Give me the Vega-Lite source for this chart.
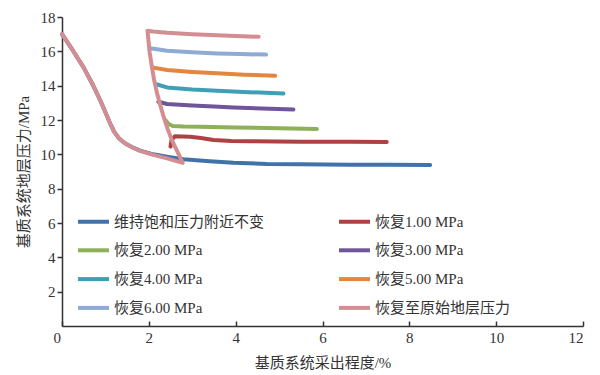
{
  "$schema": "https://vega.github.io/schema/vega-lite/v6.json",
  "width": 521,
  "height": 309,
  "autosize": {"type": "none"},
  "padding": {"left": 62, "top": 17, "right": 17, "bottom": 49},
  "background": "white",
  "config": {
    "view": {"stroke": null},
    "font": "Liberation Serif, Noto Sans CJK SC"
  },
  "data": {
    "values": [
      {"s": "维持饱和压力附近不变", "i": 0, "x": 0, "y": 17.0},
      {"s": "维持饱和压力附近不变", "i": 1, "x": 0.25, "y": 16.05},
      {"s": "维持饱和压力附近不变", "i": 2, "x": 0.5, "y": 15.05},
      {"s": "维持饱和压力附近不变", "i": 3, "x": 0.7, "y": 14.1},
      {"s": "维持饱和压力附近不变", "i": 4, "x": 0.88, "y": 13.15},
      {"s": "维持饱和压力附近不变", "i": 5, "x": 1.0, "y": 12.45},
      {"s": "维持饱和压力附近不变", "i": 6, "x": 1.1, "y": 11.85},
      {"s": "维持饱和压力附近不变", "i": 7, "x": 1.2, "y": 11.32},
      {"s": "维持饱和压力附近不变", "i": 8, "x": 1.3, "y": 10.97},
      {"s": "维持饱和压力附近不变", "i": 9, "x": 1.4, "y": 10.74},
      {"s": "维持饱和压力附近不变", "i": 10, "x": 1.5, "y": 10.57},
      {"s": "维持饱和压力附近不变", "i": 11, "x": 1.65, "y": 10.37},
      {"s": "维持饱和压力附近不变", "i": 12, "x": 1.8, "y": 10.22},
      {"s": "维持饱和压力附近不变", "i": 13, "x": 2.1, "y": 10.0},
      {"s": "维持饱和压力附近不变", "i": 14, "x": 2.45, "y": 9.85},
      {"s": "维持饱和压力附近不变", "i": 15, "x": 2.8, "y": 9.72},
      {"s": "维持饱和压力附近不变", "i": 16, "x": 3.4, "y": 9.6},
      {"s": "维持饱和压力附近不变", "i": 17, "x": 3.95, "y": 9.51},
      {"s": "维持饱和压力附近不变", "i": 18, "x": 4.72, "y": 9.44},
      {"s": "维持饱和压力附近不变", "i": 19, "x": 5.5, "y": 9.42},
      {"s": "维持饱和压力附近不变", "i": 20, "x": 6.64, "y": 9.4},
      {"s": "维持饱和压力附近不变", "i": 21, "x": 7.5, "y": 9.39},
      {"s": "维持饱和压力附近不变", "i": 22, "x": 8.48, "y": 9.38},
      {"s": "恢复1.00 MPa", "i": 0, "x": 2.5, "y": 10.45},
      {"s": "恢复1.00 MPa", "i": 1, "x": 2.52, "y": 10.8},
      {"s": "恢复1.00 MPa", "i": 2, "x": 2.6, "y": 11.06},
      {"s": "恢复1.00 MPa", "i": 3, "x": 2.95, "y": 11.03},
      {"s": "恢复1.00 MPa", "i": 4, "x": 3.2, "y": 10.95},
      {"s": "恢复1.00 MPa", "i": 5, "x": 3.49, "y": 10.83},
      {"s": "恢复1.00 MPa", "i": 6, "x": 3.9, "y": 10.78},
      {"s": "恢复1.00 MPa", "i": 7, "x": 4.33, "y": 10.76},
      {"s": "恢复1.00 MPa", "i": 8, "x": 5.5, "y": 10.74},
      {"s": "恢复1.00 MPa", "i": 9, "x": 6.64, "y": 10.73},
      {"s": "恢复1.00 MPa", "i": 10, "x": 7.48, "y": 10.72},
      {"s": "恢复2.00 MPa", "i": 0, "x": 2.38, "y": 12.0},
      {"s": "恢复2.00 MPa", "i": 1, "x": 2.45, "y": 11.78},
      {"s": "恢复2.00 MPa", "i": 2, "x": 2.55, "y": 11.65},
      {"s": "恢复2.00 MPa", "i": 3, "x": 2.8, "y": 11.62},
      {"s": "恢复2.00 MPa", "i": 4, "x": 3.18, "y": 11.6},
      {"s": "恢复2.00 MPa", "i": 5, "x": 4.0, "y": 11.57},
      {"s": "恢复2.00 MPa", "i": 6, "x": 4.72, "y": 11.54},
      {"s": "恢复2.00 MPa", "i": 7, "x": 5.3, "y": 11.51},
      {"s": "恢复2.00 MPa", "i": 8, "x": 5.87, "y": 11.48},
      {"s": "恢复3.00 MPa", "i": 0, "x": 2.22, "y": 13.06},
      {"s": "恢复3.00 MPa", "i": 1, "x": 2.42, "y": 12.93},
      {"s": "恢复3.00 MPa", "i": 2, "x": 3.0, "y": 12.84},
      {"s": "恢复3.00 MPa", "i": 3, "x": 3.5, "y": 12.78},
      {"s": "恢复3.00 MPa", "i": 4, "x": 3.95, "y": 12.73},
      {"s": "恢复3.00 MPa", "i": 5, "x": 4.6, "y": 12.67},
      {"s": "恢复3.00 MPa", "i": 6, "x": 5.33, "y": 12.61},
      {"s": "恢复4.00 MPa", "i": 0, "x": 2.17, "y": 14.08},
      {"s": "恢复4.00 MPa", "i": 1, "x": 2.42, "y": 13.9},
      {"s": "恢复4.00 MPa", "i": 2, "x": 3.0, "y": 13.78},
      {"s": "恢复4.00 MPa", "i": 3, "x": 3.57, "y": 13.7},
      {"s": "恢复4.00 MPa", "i": 4, "x": 4.3, "y": 13.62},
      {"s": "恢复4.00 MPa", "i": 5, "x": 5.1, "y": 13.55},
      {"s": "恢复5.00 MPa", "i": 0, "x": 2.1, "y": 15.05},
      {"s": "恢复5.00 MPa", "i": 1, "x": 2.42, "y": 14.91},
      {"s": "恢复5.00 MPa", "i": 2, "x": 3.0, "y": 14.8},
      {"s": "恢复5.00 MPa", "i": 3, "x": 3.57, "y": 14.72},
      {"s": "恢复5.00 MPa", "i": 4, "x": 4.2, "y": 14.64},
      {"s": "恢复5.00 MPa", "i": 5, "x": 4.91, "y": 14.58},
      {"s": "恢复6.00 MPa", "i": 0, "x": 2.03, "y": 16.18},
      {"s": "恢复6.00 MPa", "i": 1, "x": 2.42, "y": 16.03},
      {"s": "恢复6.00 MPa", "i": 2, "x": 3.0, "y": 15.94},
      {"s": "恢复6.00 MPa", "i": 3, "x": 3.57, "y": 15.88},
      {"s": "恢复6.00 MPa", "i": 4, "x": 4.1, "y": 15.84},
      {"s": "恢复6.00 MPa", "i": 5, "x": 4.7, "y": 15.81},
      {"s": "恢复至原始地层压力", "i": 0, "x": 0, "y": 17.0},
      {"s": "恢复至原始地层压力", "i": 1, "x": 0.25, "y": 16.05},
      {"s": "恢复至原始地层压力", "i": 2, "x": 0.5, "y": 15.05},
      {"s": "恢复至原始地层压力", "i": 3, "x": 0.7, "y": 14.1},
      {"s": "恢复至原始地层压力", "i": 4, "x": 0.88, "y": 13.15},
      {"s": "恢复至原始地层压力", "i": 5, "x": 1.0, "y": 12.45},
      {"s": "恢复至原始地层压力", "i": 6, "x": 1.1, "y": 11.85},
      {"s": "恢复至原始地层压力", "i": 7, "x": 1.2, "y": 11.32},
      {"s": "恢复至原始地层压力", "i": 8, "x": 1.3, "y": 10.97},
      {"s": "恢复至原始地层压力", "i": 9, "x": 1.4, "y": 10.74},
      {"s": "恢复至原始地层压力", "i": 10, "x": 1.5, "y": 10.57},
      {"s": "恢复至原始地层压力", "i": 11, "x": 1.65, "y": 10.37},
      {"s": "恢复至原始地层压力", "i": 12, "x": 1.8, "y": 10.2},
      {"s": "恢复至原始地层压力", "i": 13, "x": 2.1, "y": 9.97},
      {"s": "恢复至原始地层压力", "i": 14, "x": 2.4, "y": 9.78},
      {"s": "恢复至原始地层压力", "i": 15, "x": 2.78, "y": 9.5},
      {"s": "恢复至原始地层压力", "i": 16, "x": 2.65, "y": 10.2},
      {"s": "恢复至原始地层压力", "i": 17, "x": 2.53, "y": 10.83},
      {"s": "恢复至原始地层压力", "i": 18, "x": 2.43, "y": 11.5},
      {"s": "恢复至原始地层压力", "i": 19, "x": 2.34, "y": 12.19},
      {"s": "恢复至原始地层压力", "i": 20, "x": 2.26, "y": 12.9},
      {"s": "恢复至原始地层压力", "i": 21, "x": 2.19, "y": 13.55},
      {"s": "恢复至原始地层压力", "i": 22, "x": 2.12, "y": 14.35},
      {"s": "恢复至原始地层压力", "i": 23, "x": 2.07, "y": 15.1},
      {"s": "恢复至原始地层压力", "i": 24, "x": 2.02, "y": 15.9},
      {"s": "恢复至原始地层压力", "i": 25, "x": 1.99, "y": 16.66},
      {"s": "恢复至原始地层压力", "i": 26, "x": 1.97, "y": 17.2},
      {"s": "恢复至原始地层压力", "i": 27, "x": 2.1, "y": 17.15},
      {"s": "恢复至原始地层压力", "i": 28, "x": 2.42, "y": 17.08},
      {"s": "恢复至原始地层压力", "i": 29, "x": 3.0, "y": 17.0},
      {"s": "恢复至原始地层压力", "i": 30, "x": 3.57, "y": 16.94},
      {"s": "恢复至原始地层压力", "i": 31, "x": 4.0, "y": 16.9},
      {"s": "恢复至原始地层压力", "i": 32, "x": 4.53, "y": 16.85}
    ]
  },
  "mark": {"type": "line", "strokeWidth": 4, "strokeCap": "round", "strokeJoin": "round"},
  "encoding": {
    "x": {
      "field": "x", "type": "quantitative",
      "scale": {"domain": [0, 12], "nice": false, "zero": false},
      "axis": {
        "title": "基质系统采出程度/%",
        "values": [0, 2, 4, 6, 8, 10, 12],
        "grid": false,
        "domainColor": "#333333", "domainWidth": 1.5,
        "tickColor": "#333333", "tickWidth": 1.5, "tickSize": -5,
        "labelPadding": 9,
        "labelOffset": {"condition": {"test": "datum.value === 0", "value": -9}, "value": 0},
        "labelFontSize": 15, "labelColor": "#333333", "labelFont": "Liberation Serif",
        "titleFontSize": 15, "titleFontWeight": "normal", "titleColor": "#333333",
        "titleFont": "Liberation Serif, Noto Sans CJK SC", "titlePadding": 10
      }
    },
    "y": {
      "field": "y", "type": "quantitative",
      "scale": {"domain": [0, 18], "nice": false, "zero": false},
      "axis": {
        "title": "基质系统地层压力/MPa",
        "values": [2, 4, 6, 8, 10, 12, 14, 16, 18],
        "grid": false,
        "domainColor": "#333333", "domainWidth": 1.5,
        "tickColor": "#333333", "tickWidth": 1.5, "tickSize": 5,
        "labelPadding": 2,
        "labelFontSize": 15, "labelColor": "#333333", "labelFont": "Liberation Serif",
        "titleFontSize": 15, "titleFontWeight": "normal", "titleColor": "#333333",
        "titleFont": "Liberation Serif, Noto Sans CJK SC", "titlePadding": 9
      }
    },
    "order": {"field": "i", "type": "quantitative"},
    "color": {
      "field": "s", "type": "nominal",
      "scale": {
        "domain": ["维持饱和压力附近不变", "恢复1.00 MPa", "恢复2.00 MPa", "恢复3.00 MPa", "恢复4.00 MPa", "恢复5.00 MPa", "恢复6.00 MPa", "恢复至原始地层压力"],
        "range": ["#4172AA", "#AE4242", "#8DB058", "#6F5599", "#3E9FB6", "#E5853F", "#8EAAD5", "#D48D91"]
      },
      "legend": {
        "title": null,
        "orient": "none",
        "direction": "horizontal",
        "legendX": 14,
        "legendY": 187,
        "columns": 2,
        "columnPadding": 66,
        "rowPadding": 2.8,
        "symbolType": "stroke",
        "symbolSize": 961,
        "symbolStrokeWidth": 4,
        "labelOffset": 3,
        "labelFontSize": 15,
        "labelColor": "#333333",
        "labelFont": "Liberation Serif, Noto Sans CJK SC",
        "labelLimit": 300
      }
    }
  }
}
